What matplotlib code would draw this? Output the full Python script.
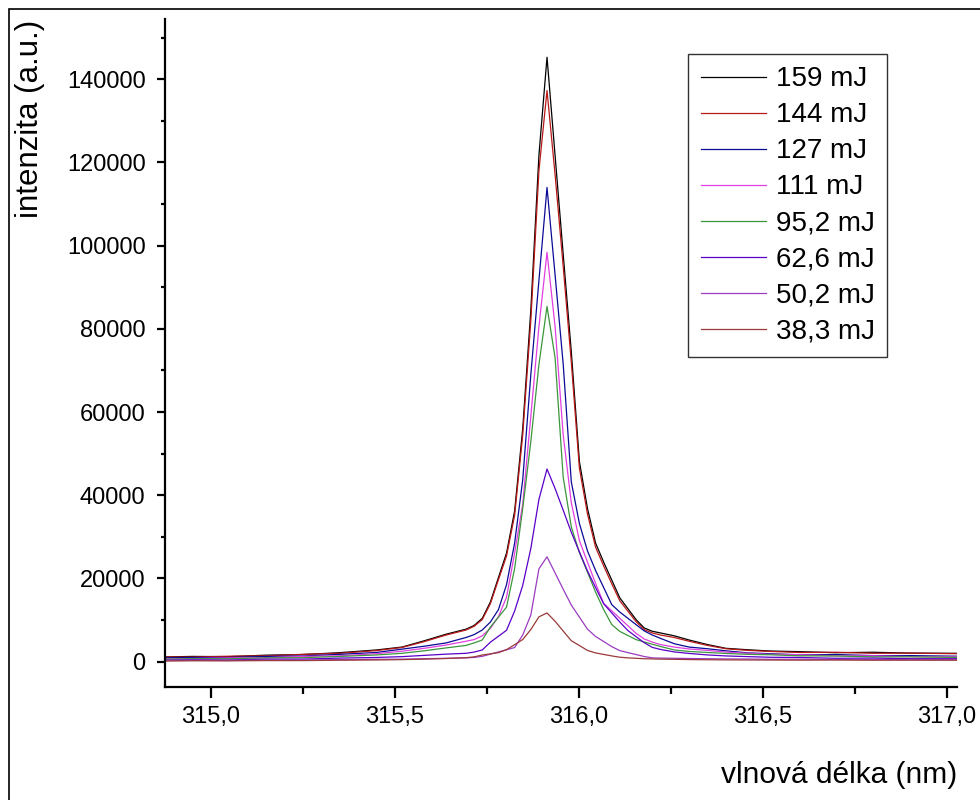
"""Emission line around 315.9 nm for several laser pulse energies."""

import matplotlib

matplotlib.use("Agg")
import matplotlib.pyplot as plt
from matplotlib.patches import Rectangle
from matplotlib.ticker import FuncFormatter, MultipleLocator


# wavelength samples (nm): sparse wings, dense core
wavelength = [
    314.876, 314.95, 315.05, 315.15, 315.25, 315.35, 315.45, 315.52, 315.58, 315.64,
    315.694, 315.716, 315.738, 315.760, 315.782, 315.804, 315.826, 315.848, 315.870, 315.892, 315.914,
    315.936, 315.958, 315.980, 316.002, 316.024, 316.046, 316.068, 316.090, 316.112, 316.134,
    316.156, 316.178, 316.200, 316.222,
    316.26, 316.30, 316.35, 316.40, 316.46, 316.52, 316.60, 316.70, 316.80, 316.90, 317.03,
]

labels = ["159 mJ", "144 mJ", "127 mJ", "111 mJ", "95,2 mJ", "62,6 mJ", "50,2 mJ", "38,3 mJ"]
colors = ["#000000", "#B81818", "#0A0A96", "#E040E0", "#3C963C", "#5A00C8", "#9A3CC0", "#9A3A3A"]

i_159 = [1130, 1250, 1200, 1550, 1700, 2150, 2800, 3500, 5000, 6600,
         7800, 8700, 10400, 14300, 20200, 26100, 36200, 56000, 84500, 121700, 145300,
         121600, 97900, 74500, 48100, 36800, 28500, 23900, 19600, 15300, 12700, 10100, 8100, 7300, 6900,
         6200, 5200, 4100, 3200, 2850, 2550, 2400, 2150, 2250, 2050, 2000]
i_144 = [1100, 1100, 1300, 1400, 1750, 2000, 2650, 3400, 4800, 6400,
         7600, 8500, 10100, 13900, 19700, 25400, 35200, 54500, 82000, 118000, 137300,
         117000, 95000, 72000, 46500, 35500, 27500, 23000, 18700, 14600, 12100, 9600, 7700, 6900, 6400,
         5800, 4900, 3900, 3100, 2700, 2450, 2200, 2250, 2000, 2050, 1900]
i_127 = [900, 1000, 1000, 1250, 1350, 1750, 2200, 3000, 3700, 4500,
         5800, 6500, 7600, 9500, 12500, 18500, 28500, 43700, 69000, 91600, 114000,
         92900, 71500, 43200, 33200, 26600, 21900, 17800, 13700, 11900, 10400, 8900, 7400, 6400, 5600,
         4300, 3500, 3100, 2600, 2100, 1900, 1650, 1700, 1450, 1450, 1300]
i_111 = [700, 750, 900, 950, 1250, 1400, 1900, 2500, 3200, 4000,
         4900, 5300, 6200, 8000, 10800, 15500, 26100, 37900, 59000, 80500, 98400,
         80500, 54500, 38200, 29100, 23900, 18800, 14000, 12200, 10400, 8600, 6800, 5450, 4700, 4100,
         3500, 3050, 2700, 2300, 2000, 1750, 1650, 1400, 1400, 1200, 1150]
i_95 = [600, 700, 700, 900, 950, 1250, 1600, 2000, 2600, 3300,
        3900, 4500, 5200, 8300, 10700, 13100, 22400, 36800, 52900, 71400, 85400,
        73000, 44300, 32400, 26200, 21500, 16700, 12500, 8900, 7250, 6270, 5290, 4730, 4180, 3650,
        2800, 2450, 2200, 1970, 1750, 1650, 1400, 1350, 1150, 1150, 1000]
i_63 = [350, 450, 400, 600, 600, 850, 1000, 1200, 1500, 1800,
        2000, 2300, 2800, 4660, 6100, 7540, 12160, 18330, 27200, 39000, 46300,
        41600, 36400, 31100, 26400, 21800, 17800, 13900, 11700, 9500, 7450, 6000, 4560, 3430, 2930,
        2330, 1970, 1610, 1370, 1200, 1050, 1000, 800, 850, 700, 700]
i_50 = [250, 300, 280, 380, 380, 480, 550, 600, 700, 800,
        900, 1000, 1270, 1800, 2330, 2860, 3390, 6400, 11200, 22300, 25200,
        21300, 17400, 13600, 10700, 7800, 6050, 4830, 3600, 2640, 2160, 1700, 1230, 900, 850,
        800, 750, 700, 650, 620, 560, 580, 520, 540, 480, 480]
i_38 = [150, 200, 180, 250, 250, 340, 400, 480, 600, 750,
        950, 1150, 1590, 1870, 2160, 2880, 4080, 5310, 7710, 10760, 11700,
        9700, 7350, 5020, 3870, 2690, 2090, 1730, 1370, 1060, 900, 800, 700, 650, 600,
        550, 500, 450, 420, 400, 380, 350, 380, 330, 350, 330]

series = [i_159, i_144, i_127, i_111, i_95, i_63, i_50, i_38]


plt.rcParams.update({
    "font.family": ["Liberation Sans", "DejaVu Sans"],
})

W, H = 980, 800
fig = plt.figure(figsize=(W / 100, H / 100), dpi=100)
ax = fig.add_axes((165 / W, 1 - 687 / H, (957 - 165) / W, (687 - 19) / H))

for vals, col, lab in zip(series, colors, labels):
    ax.plot(wavelength, vals, color=col, linewidth=0.9, label=lab)

ax.set_xlim(314.876, 317.028)
ax.set_ylim(-6100, 154500)
ax.xaxis.set_major_locator(MultipleLocator(0.5))
ax.xaxis.set_minor_locator(MultipleLocator(0.25))
ax.yaxis.set_major_locator(MultipleLocator(20000))
ax.yaxis.set_minor_locator(MultipleLocator(10000))
ax.xaxis.set_major_formatter(FuncFormatter(lambda v, _: f"{v:.1f}".replace(".", ",")))
ax.yaxis.set_major_formatter(FuncFormatter(lambda v, _: f"{v:.0f}"))

ax.spines[["top", "right"]].set_visible(False)
for side in ("left", "bottom"):
    ax.spines[side].set_linewidth(1.6)
ax.tick_params(axis="both", which="both", direction="out", width=1.6, labelsize=17)
ax.tick_params(axis="x", which="major", length=8, pad=6)
ax.tick_params(axis="x", which="minor", length=5)
ax.tick_params(axis="y", which="major", length=6, pad=8)
ax.tick_params(axis="y", which="minor", length=3)

fig.text(30 / W, 1 - 20 / H, "intenzita (a.u.)", rotation=90, ha="center", va="top", fontsize=22.5)
fig.text(957 / W, 1 - 775 / H, "vlnová délka (nm)", ha="right", va="center", fontsize=21.5)

leg = ax.legend(loc="upper left", bbox_to_anchor=(688 / W, 1 - 54 / H), bbox_transform=fig.transFigure,
                fontsize=20, frameon=True, fancybox=False, borderaxespad=0, borderpad=0.45,
                labelspacing=0.36, handlelength=2.34, handletextpad=0.36)
leg.get_frame().set_edgecolor("black")
leg.get_frame().set_linewidth(1.0)

# outer frame like the exported graph page
fig.patches.append(Rectangle((9 / W, -0.1), 1.2, 1 - 9 / H + 0.1, transform=fig.transFigure,
                             fill=False, edgecolor="black", linewidth=1.2))

fig.savefig("out.png", dpi=100, facecolor="white")
